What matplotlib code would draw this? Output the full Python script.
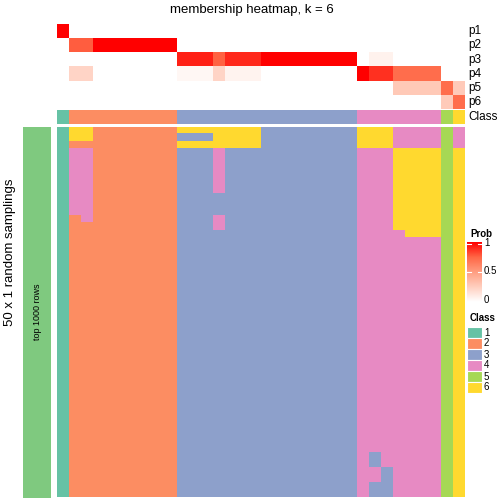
import matplotlib.pyplot as plt
import numpy as np
from matplotlib.colors import ListedColormap, LinearSegmentedColormap

plt.rcParams['font.family'] = ['Liberation Sans', 'DejaVu Sans']

# membership probabilities per sample (34 columns)
p1 = [1.00, 0.00, 0.00, 0.00, 0.00, 0.00, 0.00, 0.00, 0.00, 0.00,
      0.00, 0.00, 0.00, 0.00, 0.00, 0.00, 0.00, 0.00, 0.00, 0.00,
      0.00, 0.00, 0.00, 0.00, 0.00, 0.00, 0.00, 0.00, 0.00, 0.00,
      0.00, 0.00, 0.00, 0.00]
p2 = [0.00, 0.77, 0.77, 1.00, 1.00, 1.00, 1.00, 1.00, 1.00, 1.00,
      0.00, 0.00, 0.00, 0.00, 0.00, 0.00, 0.00, 0.00, 0.00, 0.00,
      0.00, 0.00, 0.00, 0.00, 0.00, 0.00, 0.00, 0.00, 0.00, 0.00,
      0.00, 0.00, 0.00, 0.00]
p3 = [0.00, 0.00, 0.00, 0.00, 0.00, 0.00, 0.00, 0.00, 0.00, 0.00,
      0.92, 0.92, 0.92, 0.76, 0.90, 0.90, 0.90, 1.00, 1.00, 1.00,
      1.00, 1.00, 1.00, 1.00, 1.00, 0.00, 0.07, 0.07, 0.00, 0.00,
      0.00, 0.00, 0.00, 0.00]
p4 = [0.00, 0.22, 0.22, 0.00, 0.00, 0.00, 0.00, 0.00, 0.00, 0.00,
      0.04, 0.04, 0.04, 0.22, 0.06, 0.06, 0.06, 0.00, 0.00, 0.00,
      0.00, 0.00, 0.00, 0.00, 0.00, 1.00, 0.88, 0.88, 0.72, 0.72,
      0.72, 0.72, 0.00, 0.00]
p5 = [0.00, 0.00, 0.00, 0.00, 0.00, 0.00, 0.00, 0.00, 0.00, 0.00,
      0.00, 0.00, 0.00, 0.00, 0.00, 0.00, 0.00, 0.00, 0.00, 0.00,
      0.00, 0.00, 0.00, 0.00, 0.00, 0.00, 0.00, 0.00, 0.28, 0.28,
      0.28, 0.28, 0.72, 0.27]
p6 = [0.00, 0.00, 0.00, 0.00, 0.00, 0.00, 0.00, 0.00, 0.00, 0.00,
      0.00, 0.00, 0.00, 0.00, 0.00, 0.00, 0.00, 0.00, 0.00, 0.00,
      0.00, 0.00, 0.00, 0.00, 0.00, 0.00, 0.00, 0.00, 0.00, 0.00,
      0.00, 0.00, 0.27, 0.72]
prob_labels = ["p1", "p2", "p3", "p4", "p5", "p6"]

# consensus class per sample
classes = [1, 2, 2, 2, 2, 2, 2, 2, 2, 2,
           3, 3, 3, 3, 3, 3, 3, 3, 3, 3,
           3, 3, 3, 3, 3, 4, 4, 4, 4, 4,
           4, 4, 5, 6]

# class of each sample in each of the 50 random samplings
base = "1" "222222222" "333333333333333" "4444444" "5" "6"
samplings = (
    ["1" "66" "2222222" "6666666" "33333333" "666" "4444" "5" "4"]
    + ["1" "66" "2222222" "333" "6666" "33333333" "666" "4444" "5" "4"]
    + ["1" "22" "2222222" "6666666" "33333333" "666" "4444" "5" "4"]
    + ["1" "44" "2222222" "333" "4" "33333333333" "444" "6666" "5" "6"] * 6
    + ["1" "44" "2222222" "333333333333333" "444" "6666" "5" "6"] * 3
    + ["1" "24" "2222222" "333" "4" "33333333333" "444" "6666" "5" "6"]
    + ["1" "22" "2222222" "333" "4" "33333333333" "444" "6666" "5" "6"]
    + ["1" "222222222" "333333333333333" "4444" "666" "5" "6"]
    + [base] * 29
    + ["1" "222222222" "333333333333333" "4" "3" "44444" "5" "6"] * 2
    + ["1" "222222222" "333333333333333" "44" "3" "4444" "5" "6"] * 2
    + ["1" "222222222" "333333333333333" "4" "33" "4444" "5" "6"] * 2
)
assert all(len(s) == 34 for s in samplings) and len(samplings) == 50
main = np.array([[int(c) for c in s] for s in samplings])

set2 = ["#66C2A5", "#FC8D62", "#8DA0CB", "#E78AC3", "#A6D854", "#FFD92F"]
class_cmap = ListedColormap(set2)
prob_cmap = LinearSegmentedColormap.from_list(
    "prob", [(0, "#FFFFFF"), (0.25, "#FFCFBF"), (0.5, "#FF9E81"),
             (0.75, "#FF6746"), (1, "#FF0000")])

W = H = 504


def box(x0, y0, x1, y1):
    return [x0 / W, 1 - y1 / H, (x1 - x0) / W, (y1 - y0) / H]


fig = plt.figure(figsize=(5.04, 5.04), dpi=100)

# top annotation: probabilities
ax_p = fig.add_axes(box(57, 24.3, 465, 109))
probs = np.array([p1, p2, p3, p4, p5, p6])
ax_p.imshow(probs, cmap=prob_cmap, vmin=0, vmax=1, aspect="auto",
            interpolation="nearest")
ax_p.set_axis_off()
for i, lab in enumerate(prob_labels):
    fig.text(468 / W, 1 - (24.3 + 14.1 * (i + 0.5)) / H, lab,
             fontsize=8.5, va="center", ha="left")

# class annotation
ax_c = fig.add_axes(box(57, 110, 465, 124))
ax_c.imshow(np.array([classes]), cmap=class_cmap, vmin=0.5, vmax=6.5,
            aspect="auto", interpolation="nearest")
ax_c.set_axis_off()
fig.text(468 / W, 1 - 117 / H, "Class", fontsize=8.5, va="center", ha="left")

# main heatmap
ax_m = fig.add_axes(box(57, 127, 465, 497.5))
ax_m.imshow(main, cmap=class_cmap, vmin=0.5, vmax=6.5, aspect="auto",
            interpolation="nearest")
ax_m.set_axis_off()

# row slice bar
ax_g = fig.add_axes(box(23, 127, 51, 497.5))
ax_g.set_facecolor("#7FC97F")
ax_g.set_xticks([])
ax_g.set_yticks([])
for s in ax_g.spines.values():
    s.set_visible(False)
ax_g.text(0.5, 0.5, "top 1000 rows", rotation=90, fontsize=6.5,
          ha="center", va="center", transform=ax_g.transAxes)
fig.text(10 / W, 0.5, "50 x 1 random samplings", rotation=90, fontsize=9.5,
         ha="center", va="center")

fig.text(252 / W, 1 - 10 / H, "membership heatmap, k = 6", fontsize=9.5,
         ha="center", va="center")

# legend: Prob
fig.text(470 / W, 1 - 234 / H, "Prob", fontsize=7, fontweight="bold",
         ha="left", va="center")
ax_l = fig.add_axes(box(467, 242, 482, 302))
grad = np.linspace(1, 0, 100).reshape(-1, 1)
ax_l.imshow(grad, cmap=prob_cmap, vmin=0, vmax=1, aspect="auto",
            extent=[0, 1, 0, 1])
for v in [0.5, 0.97]:
    ax_l.plot([0, 0.25], [v, v], color="white", lw=0.8)
    ax_l.plot([0.75, 1], [v, v], color="white", lw=0.8)
ax_l.set_xlim(0, 1)
ax_l.set_ylim(0, 1)
ax_l.set_axis_off()
for v, lab in [(1, "1"), (0.5, "0.5"), (0, "0")]:
    fig.text(484 / W, 1 - (300 - 57 * v) / H, lab, fontsize=7,
             ha="left", va="center")

# legend: Class
fig.text(470 / W, 1 - 318 / H, "Class", fontsize=7, fontweight="bold",
         ha="left", va="center")
ax_k = fig.add_axes(box(467, 327, 482, 393))
for i, col in enumerate(set2):
    ax_k.add_patch(plt.Rectangle((0, 5 - i), 1, 1, facecolor=col,
                                 edgecolor="white", lw=0.8))
    fig.text(484 / W, 1 - (327 + 11 * (i + 0.5)) / H, str(i + 1),
             fontsize=7, ha="left", va="center")
ax_k.set_xlim(0, 1)
ax_k.set_ylim(0, 6)
ax_k.set_axis_off()

fig.savefig("out.png", dpi=100)
